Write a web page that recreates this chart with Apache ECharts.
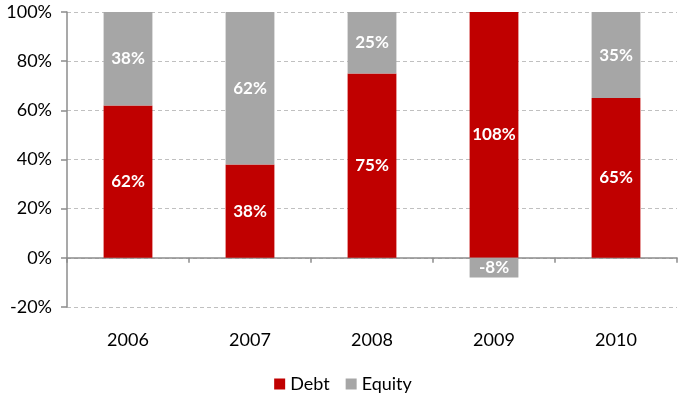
<!DOCTYPE html>
<html>
<head>
<meta charset="utf-8">
<script src="https://cdn.jsdelivr.net/npm/echarts@6/dist/echarts.min.js"></script>
<style>
  html, body { margin: 0; padding: 0; background: #fff; }
  #chart { width: 686px; height: 404px; }
</style>
</head>
<body>
<div id="chart"></div>
<script>
// Funding mix per year, in percent of the total
const years = ['2006', '2007', '2008', '2009', '2010'];
const debt = [62, 38, 75, 108, 65];
const equity = [38, 62, 25, -8, 35];

const FONT = 'Lato, "DejaVu Sans", sans-serif';

const chart = echarts.init(document.getElementById('chart'));

const labelStyle = {
  show: true,
  position: 'inside',
  formatter: '{c}%',
  color: '#fff',
  fontWeight: 'bold',
  fontSize: 17,
  fontFamily: FONT
};

chart.setOption({
  animation: false,
  grid: { left: 67, right: 9, top: 12, bottom: 97, containLabel: false },
  legend: {
    bottom: 6,
    left: 'center',
    icon: 'rect',
    itemWidth: 11,
    itemHeight: 11,
    itemGap: 16,
    textStyle: { fontSize: 18, color: '#000', fontFamily: FONT },
    data: ['Debt', 'Equity']
  },
  xAxis: [
    {
      // category labels along the bottom edge
      type: 'category',
      data: years,
      position: 'bottom',
      axisLine: { show: false, onZero: false },
      axisTick: { show: false },
      axisLabel: { fontSize: 18, color: '#000', margin: 24, fontFamily: FONT }
    },
    {
      // baseline drawn through 0%
      type: 'category',
      data: years,
      position: 'bottom',
      axisLine: { show: true, onZero: true, lineStyle: { color: '#8c8c8c', width: 1.5 } },
      axisTick: { show: true, length: 5, lineStyle: { color: '#8c8c8c', width: 1.5 } },
      axisLabel: { show: false },
      splitLine: { show: false }
    }
  ],
  yAxis: {
    type: 'value',
    min: -20,
    max: 100,
    interval: 20,
    axisLine: { show: true, lineStyle: { color: '#8c8c8c', width: 1.5 } },
    axisTick: { show: true, length: 6, lineStyle: { color: '#8c8c8c', width: 1.5 } },
    axisLabel: { formatter: '{value}%', fontSize: 18, color: '#000', margin: 15, fontFamily: FONT },
    splitLine: { show: true, lineStyle: { color: '#c0c0c0', type: [4, 3], width: 1 } }
  },
  series: [
    {
      name: 'Debt',
      type: 'bar',
      stack: 'total',
      xAxisIndex: 0,
      barWidth: '40%',
      clip: true,
      itemStyle: { color: '#c00000' },
      label: labelStyle,
      data: debt
    },
    {
      name: 'Equity',
      type: 'bar',
      stack: 'total',
      xAxisIndex: 0,
      barWidth: '40%',
      clip: true,
      itemStyle: { color: '#a6a6a6' },
      label: labelStyle,
      data: equity
    }
  ]
});
</script>
</body>
</html>
